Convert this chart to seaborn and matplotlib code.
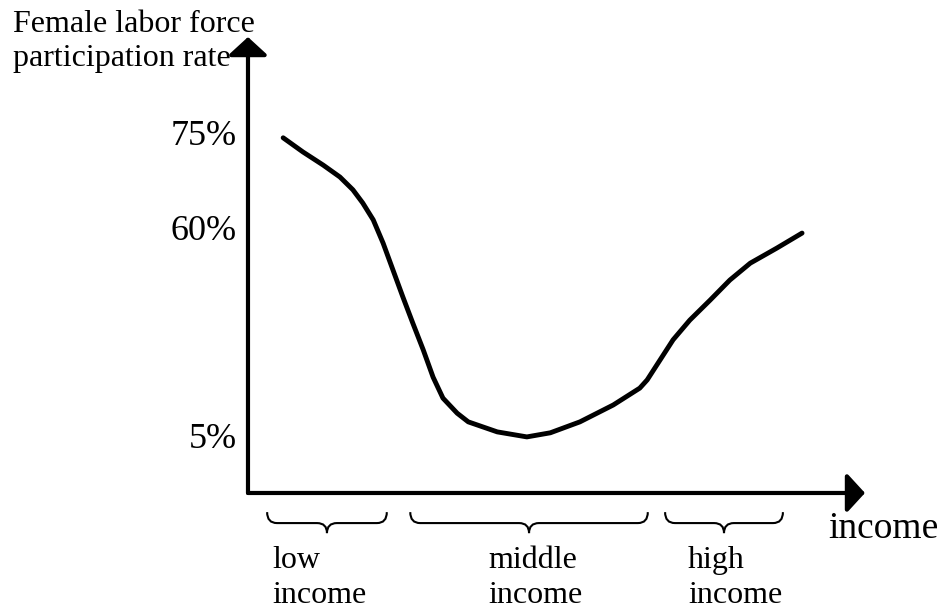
import numpy as np
import pandas as pd
import seaborn as sns
from matplotlib import pyplot as plt
from matplotlib.path import Path
from matplotlib.patches import PathPatch

# schematic curve (income units 0-100, axis units 0-100)
income = [5.7, 8.9, 12.2, 14.9, 17.0, 18.6, 20.3, 21.9, 23.5, 25.1, 26.7, 28.4,
          30.0, 31.6, 33.9, 35.7, 40.4, 45.2, 49.0, 53.8, 59.2, 63.5, 64.7, 66.8,
          68.9, 71.6, 74.9, 78.1, 81.4, 85.7, 89.8]
rate = [77.9, 74.8, 71.9, 69.3, 66.5, 63.6, 59.9, 54.8, 48.9, 43.0, 37.3, 31.4,
        25.4, 20.8, 17.5, 15.6, 13.4, 12.3, 13.2, 15.6, 19.3, 23.0, 24.8, 29.2,
        33.6, 37.9, 42.3, 46.7, 50.4, 53.7, 57.0]

tick_pos = [79, 58.3, 12.7]
tick_labels = ["75%", "60%", "5%"]

groups = ["low\nincome", "middle\nincome", "high\nincome"]
group_start = [3.1, 26.3, 67.6]
group_end = [22.5, 64.8, 86.7]
label_x = [3.9, 38.9, 71.3]

sns.set_style("white")
plt.rcParams['font.family'] = ['Liberation Serif', 'DejaVu Serif']
plt.rcParams['text.color'] = 'black'
plt.rcParams['ytick.color'] = 'black'
plt.rcParams['ytick.labelcolor'] = 'black'

fig = plt.figure(figsize=(9.44, 6.09), dpi=100)
ax = fig.add_axes([0.2627, 0.1905, 0.6536, 0.7487])

df = pd.DataFrame({"income": income, "rate": rate})
sns.lineplot(data=df, x="income", y="rate", ax=ax, color="black", linewidth=3.5,
             sort=False, solid_joinstyle='round', solid_capstyle='round')

ax.set_xlim(0, 100)
ax.set_ylim(0, 100)
for s in ax.spines.values():
    s.set_visible(False)
ax.set_xticks([])
ax.set_yticks(tick_pos, tick_labels, fontsize=26)
ax.tick_params(axis='y', length=0, pad=8, labelcolor='black')
ax.set_xlabel("")
ax.set_ylabel("")

# arrowed axes
arrow = dict(arrowstyle='-|>,head_length=0.55,head_width=0.6', lw=3, color='black',
             shrinkA=0, shrinkB=0, mutation_scale=20)
ax.annotate("", xy=(0, 1), xytext=(0, 0), xycoords='axes fraction', arrowprops=arrow)
ax.annotate("", xy=(1, 0), xytext=(0, 0), xycoords='axes fraction', arrowprops=arrow)

# curly braces under the income axis
top, mid, tip = -4.2, -6.6, -8.8
r = 1.6
for x0, x1 in zip(group_start, group_end):
    xc = (x0 + x1) / 2
    verts = [(x0, top), (x0, mid), (x0 + r, mid),
             (xc - r, mid), (xc, mid), (xc, tip),
             (xc, mid), (xc + r, mid),
             (x1 - r, mid), (x1, mid), (x1, top)]
    codes = [Path.MOVETO, Path.CURVE3, Path.CURVE3,
             Path.LINETO, Path.CURVE3, Path.CURVE3,
             Path.CURVE3, Path.CURVE3,
             Path.LINETO, Path.CURVE3, Path.CURVE3]
    ax.add_patch(PathPatch(Path(verts, codes), fill=False, lw=1.5, ec='black',
                           clip_on=False, transform=ax.transData))

for g, lx in zip(groups, label_x):
    ax.text(lx, -11.6, g, fontsize=23, ha='left', va='top', linespacing=1.3,
            color='black', clip_on=False)

ax.text(94.0, -9.9, "income", fontsize=27, ha='left', va='baseline', color='black',
        clip_on=False)
fig.text(13 / 944, 1 - 10 / 609, "Female labor force\nparticipation rate",
         fontsize=23, ha='left', va='top', linespacing=1.22, color='black')

fig.savefig("out.png", dpi=100)
